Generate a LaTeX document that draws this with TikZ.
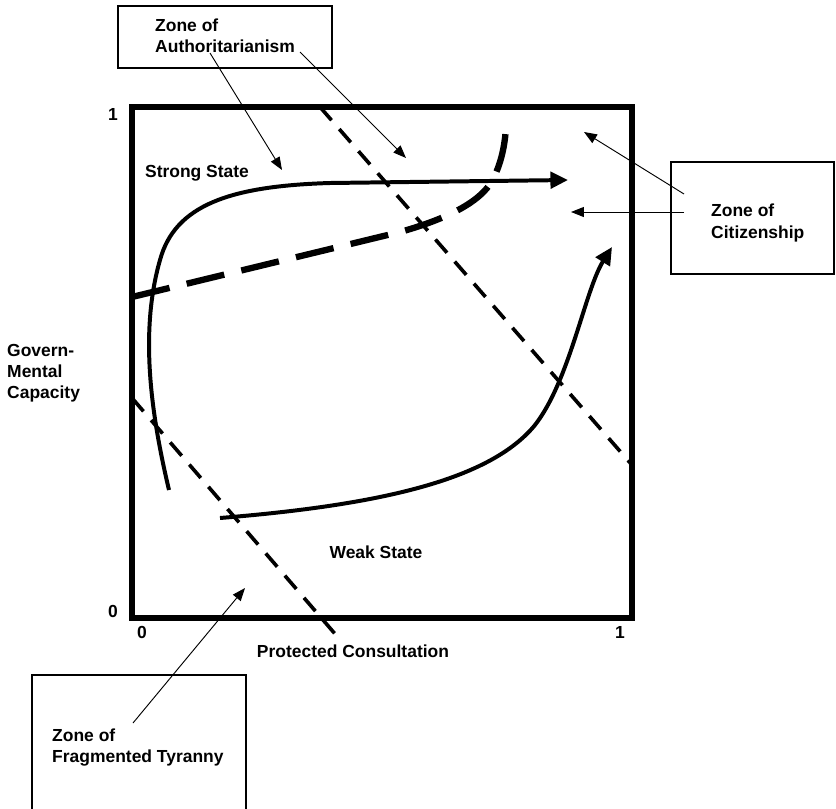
\documentclass[tikz,border=0pt]{standalone}
\usepackage{fontspec}
\setmainfont{Liberation Sans}
\usetikzlibrary{arrows.meta}

\begin{document}
\begin{tikzpicture}[x=0.03cm, y=-0.03cm,
    lbl/.style={font=\bfseries\fontsize{14.9}{18}\selectfont, inner sep=0pt, align=left},
    zonebox/.style={draw, line width=1pt, inner sep=0pt},
    pointer/.style={line width=0.8pt, -{Triangle[length=11pt,width=8.5pt]}},
    trend/.style={line width=3.4pt, -{Triangle[length=15pt,width=14pt]}},
    zoneline/.style={line width=3.1pt, dash pattern=on 15pt off 10pt},
    frontier/.style={line width=5.4pt, dash pattern=on 33pt off 15pt}]

    \useasboundingbox (0,0) rectangle (836,808);

    \draw [line width=4.3pt] (132,107) rectangle (632,618); % Draws the frame

    % axis labels
    \node [lbl] (yone) at (113,114) {1};
    \node [lbl] (yzero) at (113,611) {0};
    \node [lbl] (xzero) at (142,632) {0};
    \node [lbl] (xone) at (620,632) {1};
    \node [lbl, anchor=west] (yaxis) at (7,373) {Govern-\\Mental\\Capacity};
    \node [lbl] (xaxis) at (353,651) {Protected Consultation};

    \node [lbl] (strong) at (197,173) {Strong State};
    \node [lbl] (weak) at (376,552) {Weak State};

    % zone boxes
    \node [zonebox, minimum width=6.42cm, minimum height=1.86cm] (authbox) at (225,37) {};
    \node [zonebox, minimum width=4.89cm, minimum height=3.36cm] (citbox) at (752.5,218) {};
    \node [zonebox, minimum width=6.42cm, minimum height=4.2cm] (tyrbox) at (139,745) {};

    \node [lbl, anchor=west] (authtext) at (155,36) {Zone of\\Authoritarianism};
    \node [lbl, anchor=west] (cittext) at (711,223) {Zone of\\Citizenship};
    \node [lbl, anchor=west] (tyrtext) at (52,747.5) {Zone of\\Fragmented Tyranny};

    % zone boundaries
    \draw [zoneline] (320,107) -- (632,465);
    \draw [zoneline] (132,398) -- (342,642);
    \draw [frontier] (132,297) -- (400,232) .. controls (450,218) and (485,200) .. (495,175)
        .. controls (502,160) and (506,140) .. (506,122);

    % state paths
    \draw [trend] (169,490) .. controls (150,410) and (140,330) .. (160,260)
        .. controls (175,205) and (230,186) .. (330,183) -- (568,180);
    \draw [trend] (220,518) .. controls (380,505) and (490,480) .. (535,425)
        .. controls (570,380) and (585,290) .. (612,247);

    % pointers
    \coordinate (a1) at (210,53);  \coordinate (a1e) at (282,170);
    \coordinate (a2) at (300,52);  \coordinate (a2e) at (406,158);
    \coordinate (c1) at (684,194); \coordinate (c1e) at (584,132);
    \coordinate (c2) at (684,212); \coordinate (c2e) at (571,212);
    \coordinate (t1) at (133,723); \coordinate (t1e) at (245,588);

    \draw [pointer] (a1) -- (a1e);
    \draw [pointer] (a2) -- (a2e);
    \draw [pointer] (c1) -- (c1e);
    \draw [pointer] (c2) -- (c2e);
    \draw [pointer] (t1) -- (t1e);
\end{tikzpicture}
\end{document}
